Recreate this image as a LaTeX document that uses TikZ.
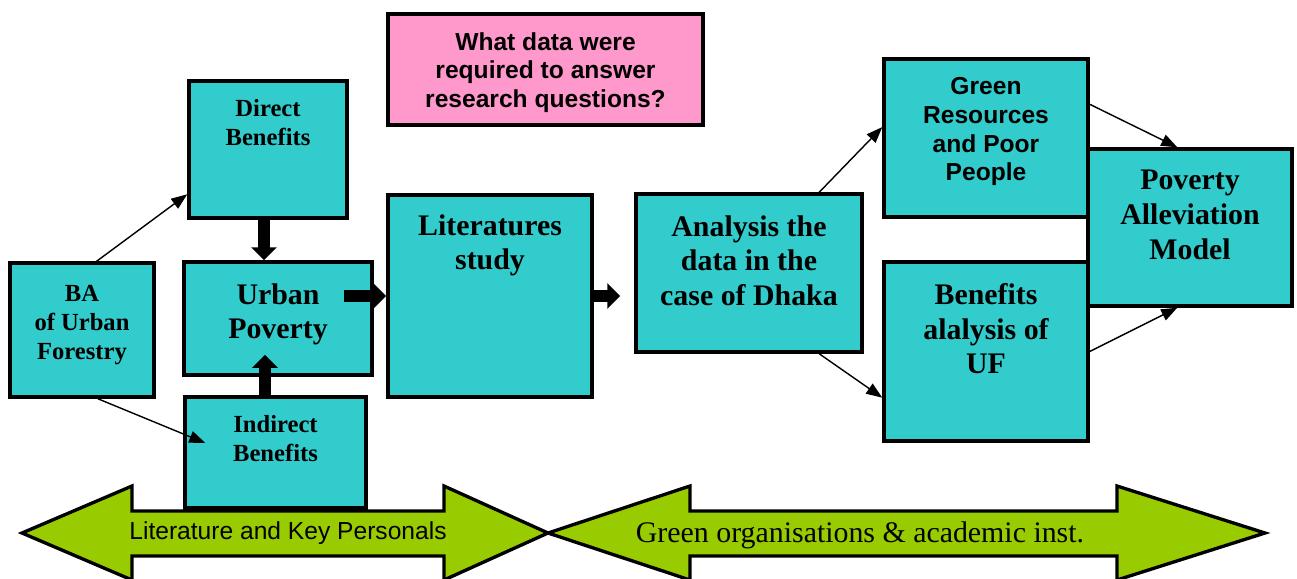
\documentclass[tikz,border=0pt]{standalone}
\usepackage{fontspec}
\setmainfont{Liberation Serif}
\setsansfont{Liberation Sans}
\usetikzlibrary{calc, arrows.meta, positioning}

\definecolor{boxteal}{HTML}{33CCCC}
\definecolor{boxpink}{HTML}{FF99CC}
\definecolor{bandgreen}{HTML}{99CC00}

\tikzset{
  box/.style={draw, line width=2pt, fill=boxteal, inner sep=0pt},
  boxtext/.style={anchor=north, align=center, inner sep=0pt, font=\bfseries\fontsize{14}{16.5}\selectfont},
  bigtext/.style={boxtext, font=\bfseries\fontsize{17}{19.8}\selectfont},
  sanstext/.style={boxtext, font=\sffamily\bfseries\fontsize{14}{16.4}\selectfont},
  thinarrow/.style={line width=0.8pt, -{Triangle[length=0.32cm, width=0.24cm]}},
  blockarrow/.style={line width=0.23cm, -{Triangle[length=0.26cm, width=0.5cm]}},
  band/.style={draw, line width=1.9pt, fill=bandgreen, line join=miter},
}

\begin{document}
\begin{tikzpicture}[x=0.02cm, y=-0.02cm]
\useasboundingbox (0,0) rectangle (1297,578);

% Left column: benefits and urban poverty
\node[box, minimum width=2.88cm, minimum height=2.68cm] (ba) at (82,330) {};
\node[boxtext] (ba-t) at (82,285) {BA\\of Urban\\Forestry};

\node[box, minimum width=3.16cm, minimum height=2.74cm] (direct) at (268,149.5) {};
\node[boxtext] (direct-t) at (268,99) {Direct\\Benefits};

\node[box, minimum width=3.76cm, minimum height=2.26cm] (urban) at (278,318.5) {};
\node[bigtext] (urban-t) at (278,283) {Urban\\Poverty};

\node[box, minimum width=3.62cm, minimum height=2.22cm] (indirect) at (275.5,452.5) {};
\node[boxtext] (indirect-t) at (275.5,415) {Indirect\\Benefits};

% Middle: literature study and question
\node[box, minimum width=4.08cm, minimum height=4.04cm] (lit) at (490,296) {};
\node[bigtext] (lit-t) at (490,214) {Literatures\\study};

\node[box, fill=boxpink, minimum width=6.3cm, minimum height=2.22cm] (question) at (545.5,69.5) {};
\node[sanstext] (question-t) at (545.5,32) {What data were\\required to answer\\research questions?};

\node[box, minimum width=4.52cm, minimum height=3.16cm] (analysis) at (749,273) {};
\node[bigtext] (analysis-t) at (749,215) {Analysis the\\data in the\\case of Dhaka};

% Right: outputs and model
\node[box, minimum width=4.08cm, minimum height=3.16cm] (green) at (986,138) {};
\node[sanstext] (green-t) at (986,77) {Green\\Resources\\and Poor\\People};

\node[box, minimum width=4.08cm, minimum height=3.58cm] (benefits) at (986,351.5) {};
\node[bigtext] (benefits-t) at (986,283) {Benefits\\alalysis of\\UF};

\node[box, minimum width=4.08cm, minimum height=3.14cm] (model) at (1190,227.5) {};
\node[bigtext] (model-t) at (1190,170) {Poverty\\Alleviation\\Model};

% Thin connectors
\draw[thinarrow] (ba.78) -- (direct.209);
\draw[thinarrow] (ba.283) -- ($(indirect.west)+(22,-9.5)$);
\draw[thinarrow] (analysis.49) -- (green.174);
\draw[thinarrow] (analysis.311) -- (benefits.204);
\draw[thinarrow] (green.18) -- (model.99);
\draw[thinarrow] (benefits.east) -- (model.261);

% Block arrows
\draw[blockarrow] ([xshift=-0.08cm]direct.south) -- ([xshift=-0.08cm]direct.south |- urban.north);
\draw[blockarrow] ([xshift=-0.21cm]indirect.north) -- ([xshift=-0.21cm, yshift=0.44cm]indirect.north |- urban.south);
\draw[blockarrow] ([xshift=-0.6cm]urban.east |- lit.west) -- (lit.west);
\draw[blockarrow] (lit.east) -- ([xshift=-0.28cm]analysis.west |- lit.east);

% Bottom bands
\draw[band] (22,533) -- (132,486) -- (132,511) -- (444,511) -- (444,486) -- (548,533)
  -- (444,580) -- (444,556) -- (132,556) -- (132,580) -- cycle;
\node[font=\sffamily\fontsize{14}{16}\selectfont] (band-left) at (288,533) {Literature and Key Personals};

\draw[band] (548,533) -- (690,486) -- (690,511) -- (1117,511) -- (1117,486) -- (1265,533)
  -- (1117,580) -- (1117,556) -- (690,556) -- (690,580) -- cycle;
\node[font=\fontsize{17}{20}\selectfont] (band-right) at (860,535) {Green organisations \& academic inst.};

\end{tikzpicture}
\end{document}
